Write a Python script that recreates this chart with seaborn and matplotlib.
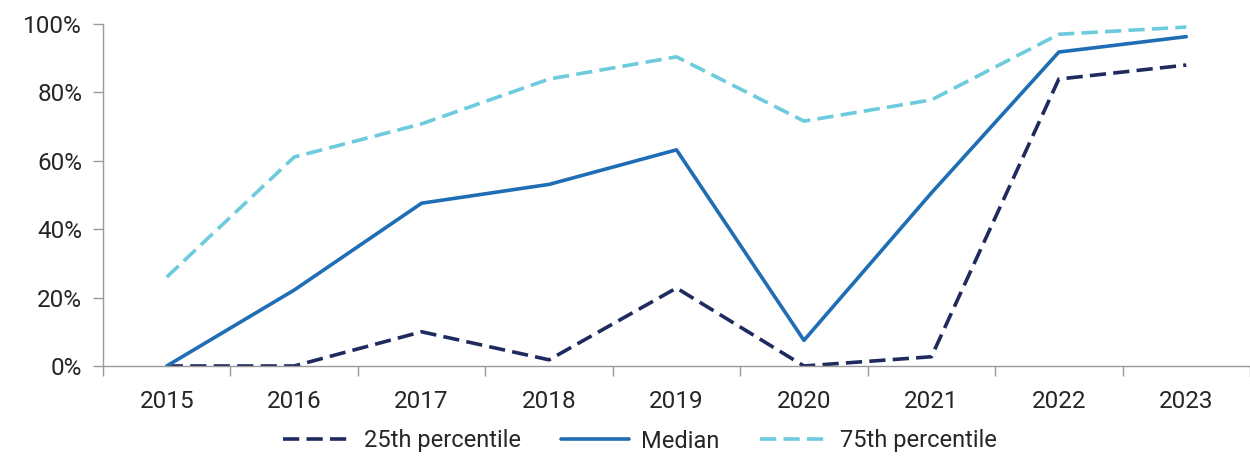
import matplotlib
matplotlib.use("Agg")
import matplotlib.pyplot as plt
import seaborn as sns
import pandas as pd
import numpy as np
from matplotlib.ticker import FixedLocator, PercentFormatter

years = ["2015", "2016", "2017", "2018", "2019", "2020", "2021", "2022", "2023"]
p25 = [0.0, 0.0, 10.0, 1.8, 22.8, 0.0, 2.7, 83.9, 88.0]
median = [0.0, 22.2, 47.6, 53.1, 63.2, 7.5, 50.6, 91.8, 96.3]
p75 = [26.0, 61.1, 70.8, 83.9, 90.4, 71.6, 77.8, 97.0, 99.1]
series_names = ["25th percentile", "Median", "75th percentile"]

rows = []
for name, vals in zip(series_names, [p25, median, p75]):
    for i, v in enumerate(vals):
        rows.append({"pos": i, "value": v, "series": name})
df = pd.DataFrame(rows)

sns.set_style("white")
plt.rcParams["font.family"] = ["Roboto", "DejaVu Sans"]

fig = plt.figure(figsize=(12.5, 4.58), dpi=100)
ax = fig.add_axes([0.0824, 0.2009, 0.9176, 0.7467])

palette = {"25th percentile": "#1f2a5e", "Median": "#1f6db5", "75th percentile": "#6ccbdc"}
dashes = {"25th percentile": (4.5, 2.0), "Median": "", "75th percentile": (4.5, 2.0)}
sns.lineplot(data=df, x="pos", y="value", hue="series", style="series",
             palette=palette, dashes=dashes, linewidth=2.6, ax=ax, legend=True)

ax.set_xlim(-0.5, len(years) - 0.5)
ax.set_ylim(0, 100)
ax.set_xlabel("")
ax.set_ylabel("")

ax.yaxis.set_major_locator(FixedLocator([0, 20, 40, 60, 80, 100]))
ax.yaxis.set_major_formatter(PercentFormatter(decimals=0))
ax.set_xticks(np.arange(len(years) + 1) - 0.5)
ax.set_xticklabels([])
ax.set_xticks(np.arange(len(years)), minor=True)
ax.set_xticklabels(years, minor=True)

for side in ["top", "right"]:
    ax.spines[side].set_visible(False)
for side in ["left", "bottom"]:
    ax.spines[side].set_color("#9a9a9a")
    ax.spines[side].set_linewidth(1.0)

ax.tick_params(axis="y", which="major", length=7, color="#9a9a9a", width=1,
               labelsize=17.5, labelcolor="#262626", pad=8, left=True)
ax.tick_params(axis="x", which="major", length=7, color="#9a9a9a", width=1, bottom=True)
ax.tick_params(axis="x", which="minor", length=0, labelsize=17.5, labelcolor="#262626", pad=17)

ax.grid(False)
handles, labels = ax.get_legend_handles_labels()
ax.get_legend().remove()
fig.legend(handles, labels, loc="center", bbox_to_anchor=(640 / 1250, 1 - 441 / 458),
           ncol=3, frameon=False, fontsize=17, handlelength=2.9, columnspacing=1.7,
           labelcolor="#262626", handletextpad=0.5, borderaxespad=0)

fig.savefig("out.png", dpi=100)
